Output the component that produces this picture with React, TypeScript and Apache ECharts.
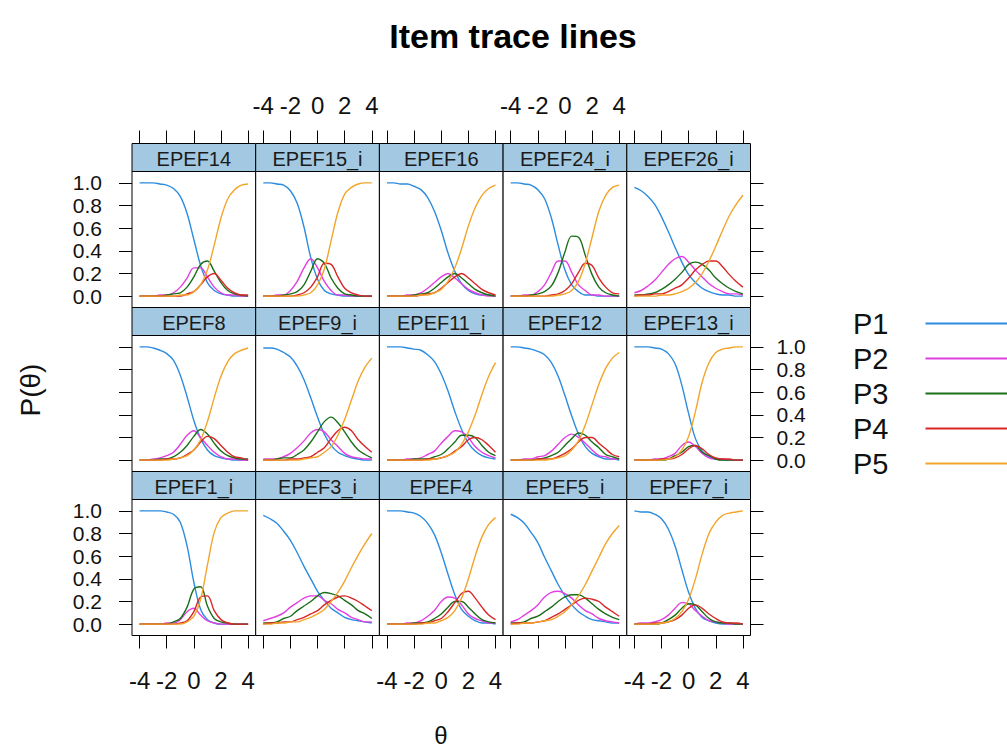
import React, { useEffect, useRef } from "react";
import * as echarts from "echarts";

// ---- data ----
const theta = [-4, -3.5, -3, -2.5, -2, -1.5, -1, -0.5, 0, 0.5, 1, 1.5, 2, 2.5, 3, 3.5, 4];
const categories = ["P1", "P2", "P3", "P4", "P5"];
const xTicks = [-4, -2, 0, 2, 4];
const yTicks = [0, 0.2, 0.4, 0.6, 0.8, 1.0];

const EPEF14 = [
  [1, 1, 1, .99, .98, .95, .88, .73, .50, .27, .12, .05, .02, .01, 0, 0, 0],
  [0, 0, 0, .01, .01, .03, .08, .16, .25, .25, .17, .08, .03, .01, .01, 0, 0],
  [0, 0, 0, 0, .01, .02, .03, .08, .17, .28, .31, .22, .12, .05, .02, .01, 0],
  [0, 0, 0, 0, 0, 0, 0, .02, .04, .10, .17, .20, .14, .07, .03, .01, .01],
  [0, 0, 0, 0, 0, 0, .01, .01, .04, .10, .23, .45, .69, .86, .94, .98, .99],
];
const EPEF15_i = [
  [1, 1, .99, .98, .93, .82, .61, .34, .15, .05, .02, .01, 0, 0, 0, 0, 0],
  [0, 0, .01, .01, .05, .13, .25, .33, .25, .13, .05, .01, .01, 0, 0, 0, 0],
  [0, 0, 0, .01, .02, .04, .10, .22, .33, .29, .16, .07, .02, .01, 0, 0, 0],
  [0, 0, 0, 0, 0, .01, .03, .08, .17, .29, .28, .17, .07, .03, .01, 0, 0],
  [0, 0, 0, 0, 0, 0, .01, .03, .10, .24, .49, .74, .90, .96, .99, 1, 1],
];
const EPEF16 = [
  [1, 1, .99, .99, .97, .94, .87, .75, .58, .38, .22, .11, .05, .02, .01, .01, 0],
  [0, 0, 0, .01, .01, .03, .07, .12, .17, .20, .16, .11, .06, .03, .01, 0, 0],
  [0, 0, 0, 0, .01, .02, .03, .07, .12, .17, .20, .16, .11, .06, .03, .01, 0],
  [0, 0, 0, 0, 0, .01, .02, .03, .07, .12, .17, .20, .16, .11, .06, .03, .01],
  [0, 0, 0, 0, 0, .01, .01, .03, .06, .13, .25, .42, .62, .78, .89, .95, .98],
];
const EPEF24_i = [
  [1, 1, .99, .98, .94, .86, .69, .45, .23, .10, .04, .01, .01, 0, 0, 0, 0],
  [0, 0, .01, .01, .04, .10, .21, .31, .31, .21, .10, .05, .01, .01, 0, 0, 0],
  [0, 0, 0, .01, .02, .04, .09, .21, .39, .53, .52, .36, .19, .08, .03, .01, 0],
  [0, 0, 0, 0, 0, 0, .01, .02, .05, .11, .21, .29, .27, .16, .08, .03, .02],
  [0, 0, 0, 0, 0, 0, 0, .01, .02, .05, .13, .29, .52, .75, .89, .96, .98],
];
const EPEF26_i = [
  [.96, .93, .88, .81, .70, .57, .43, .30, .19, .12, .07, .04, .02, .01, .01, 0, 0],
  [.03, .05, .09, .14, .21, .28, .33, .35, .30, .23, .17, .11, .07, .04, .02, .02, .01],
  [.01, .01, .02, .03, .06, .10, .15, .21, .28, .30, .28, .23, .16, .11, .07, .04, .02],
  [0, .01, .01, .02, .02, .04, .07, .10, .16, .23, .28, .31, .31, .26, .19, .13, .08],
  [0, 0, 0, 0, .01, .01, .02, .04, .07, .12, .20, .31, .44, .58, .71, .81, .89],
];
const EPEF8 = [
  [1, 1, .99, .97, .94, .88, .75, .56, .35, .19, .09, .04, .02, .01, 0, 0, 0],
  [0, 0, .01, .02, .04, .07, .14, .22, .26, .20, .13, .07, .03, .01, .01, 0, 0],
  [0, 0, 0, .01, .01, .03, .07, .13, .21, .27, .23, .15, .08, .04, .02, .01, .01],
  [0, 0, 0, 0, .01, .01, .02, .05, .09, .16, .21, .19, .13, .07, .03, .02, 0],
  [0, 0, 0, 0, 0, .01, .02, .04, .09, .18, .34, .55, .74, .87, .94, .97, .99],
];
const EPEF9_i = [
  [.99, .99, .98, .95, .91, .83, .71, .55, .38, .23, .13, .07, .04, .02, .01, 0, 0],
  [.01, .01, .01, .03, .06, .11, .17, .24, .27, .25, .18, .12, .06, .03, .02, .01, .01],
  [0, 0, .01, .02, .02, .05, .09, .16, .25, .34, .38, .33, .25, .16, .09, .05, .02],
  [0, 0, 0, 0, .01, .01, .02, .03, .07, .11, .19, .26, .29, .26, .18, .12, .07],
  [0, 0, 0, 0, 0, 0, .01, .02, .03, .07, .12, .22, .36, .53, .70, .82, .90],
];
const EPEF11_i = [
  [1, 1, 1, .99, .98, .97, .93, .87, .76, .61, .43, .27, .15, .08, .04, .02, .01],
  [0, 0, 0, .01, .01, .02, .05, .08, .15, .21, .26, .25, .20, .12, .07, .04, .02],
  [0, 0, 0, 0, .01, .01, .01, .03, .05, .10, .16, .22, .22, .20, .13, .07, .04],
  [0, 0, 0, 0, 0, 0, .01, .01, .02, .04, .08, .12, .18, .20, .18, .13, .07],
  [0, 0, 0, 0, 0, 0, 0, .01, .02, .04, .07, .14, .25, .40, .58, .74, .86],
];
const EPEF12 = [
  [1, 1, .99, .98, .96, .93, .86, .74, .57, .39, .23, .12, .06, .03, .01, .01, 0],
  [0, 0, .01, .01, .03, .04, .08, .14, .20, .23, .20, .15, .09, .04, .03, .01, .01],
  [0, 0, 0, 0, .01, .02, .04, .07, .13, .19, .24, .22, .16, .11, .05, .03, .01],
  [0, 0, 0, 0, .01, .01, .01, .03, .06, .10, .16, .20, .20, .15, .10, .05, .03],
  [0, 0, 0, 0, 0, 0, .01, .02, .04, .09, .17, .31, .49, .67, .81, .90, .95],
];
const EPEF13_i = [
  [1, 1, 1, .99, .98, .94, .85, .66, .41, .19, .08, .03, .01, 0, 0, 0, 0],
  [0, 0, 0, .01, .01, .03, .06, .13, .16, .12, .06, .02, .01, .01, 0, 0, 0],
  [0, 0, 0, 0, 0, .01, .04, .07, .12, .13, .07, .04, .01, 0, 0, 0, 0],
  [0, 0, 0, 0, .01, .01, .02, .05, .10, .13, .10, .05, .02, .01, .01, 0, 0],
  [0, 0, 0, 0, 0, .01, .03, .09, .21, .43, .69, .86, .95, .98, .99, 1, 1],
];
const EPEF1_i = [
  [1, 1, 1, 1, .99, .97, .90, .69, .37, .13, .04, .01, 0, 0, 0, 0, 0],
  [0, 0, 0, 0, .01, .01, .04, .11, .14, .08, .03, .01, 0, 0, 0, 0, 0],
  [0, 0, 0, 0, 0, .02, .05, .15, .31, .33, .16, .05, .02, .01, 0, 0, 0],
  [0, 0, 0, 0, 0, 0, .01, .03, .11, .24, .25, .12, .04, .01, 0, 0, 0],
  [0, 0, 0, 0, 0, 0, 0, .02, .07, .22, .52, .81, .94, .98, 1, 1, 1],
];
const EPEF3_i = [
  [.96, .93, .89, .82, .74, .63, .51, .40, .29, .21, .14, .10, .06, .04, .03, .02, .01],
  [.03, .05, .07, .10, .15, .19, .23, .25, .25, .21, .18, .13, .10, .06, .04, .02, .02],
  [.01, .01, .02, .05, .07, .12, .16, .20, .25, .28, .27, .25, .21, .17, .12, .09, .05],
  [0, .01, .01, .02, .02, .04, .06, .09, .12, .17, .21, .24, .25, .23, .20, .16, .12],
  [0, 0, .01, .01, .02, .02, .04, .06, .09, .13, .20, .28, .38, .50, .61, .71, .80],
];
const EPEF4 = [
  [1, 1, 1, .99, .98, .95, .89, .79, .63, .44, .26, .13, .07, .03, .01, .01, 0],
  [0, 0, 0, .01, .01, .03, .07, .12, .20, .24, .23, .17, .09, .05, .03, .01, .01],
  [0, 0, 0, 0, .01, .01, .02, .05, .09, .15, .20, .20, .15, .09, .04, .02, .01],
  [0, 0, 0, 0, 0, .01, .01, .03, .05, .11, .19, .27, .29, .23, .15, .08, .04],
  [0, 0, 0, 0, 0, 0, .01, .01, .03, .06, .12, .23, .40, .60, .77, .88, .94],
];
const EPEF5_i = [
  [.97, .94, .89, .81, .72, .59, .47, .35, .25, .17, .11, .07, .04, .03, .02, .01, .01],
  [.02, .04, .08, .12, .17, .24, .28, .29, .27, .23, .17, .12, .09, .05, .03, .02, .01],
  [.01, .01, .02, .05, .07, .11, .15, .20, .24, .26, .26, .23, .18, .13, .09, .06, .04],
  [0, .01, .01, .01, .02, .03, .06, .09, .13, .17, .21, .23, .22, .20, .15, .11, .07],
  [0, 0, .01, .01, .02, .03, .04, .07, .11, .17, .25, .35, .47, .59, .71, .80, .87],
];
const EPEF7_i = [
  [1, .99, .99, .97, .93, .84, .69, .48, .28, .14, .06, .03, .01, 0, 0, 0, 0],
  [0, .01, .01, .02, .04, .08, .14, .19, .18, .12, .07, .03, .02, .01, 0, 0, 0],
  [0, 0, 0, 0, .01, .04, .08, .14, .18, .17, .11, .05, .02, .01, .01, 0, 0],
  [0, 0, 0, .01, .01, .02, .04, .08, .14, .17, .14, .09, .05, .02, .01, .01, 0],
  [0, 0, 0, 0, .01, .02, .05, .11, .22, .40, .62, .80, .90, .96, .98, .99, 1],
];

const panelNames = [
  "EPEF14", "EPEF15_i", "EPEF16", "EPEF24_i", "EPEF26_i",
  "EPEF8", "EPEF9_i", "EPEF11_i", "EPEF12", "EPEF13_i",
  "EPEF1_i", "EPEF3_i", "EPEF4", "EPEF5_i", "EPEF7_i",
];
const panelData = [
  EPEF14, EPEF15_i, EPEF16, EPEF24_i, EPEF26_i,
  EPEF8, EPEF9_i, EPEF11_i, EPEF12, EPEF13_i,
  EPEF1_i, EPEF3_i, EPEF4, EPEF5_i, EPEF7_i,
];

// ---- styling ----
const colors = ["#2b8ce0", "#e23fe2", "#1a6e1a", "#d92626", "#f2a52a"];
const NARROW = '"Liberation Sans Narrow", "Arial Narrow", "Liberation Sans", Arial, sans-serif';
const SANS = '"Liberation Sans", Arial, sans-serif';
const PLOT_LEFT = 132;
const COL_W = 123.7;
const ROW_TOP = 143.5;
const ROW_H = 164;
const STRIP_H = 28;

function makeX(gridIndex: number, position: string, showTicks: boolean, showLabels: boolean) {
  const top = position === "top";
  return {
    type: "value",
    gridIndex,
    position,
    offset: top ? STRIP_H : 0,
    min: -4.56,
    max: 4.56,
    axisLine: { show: false, onZero: false },
    splitLine: { show: false },
    axisTick: { show: showTicks, customValues: xTicks, length: 13, lineStyle: { color: "#000", width: 1 } },
    axisLabel: {
      show: showLabels,
      customValues: xTicks,
      showMinLabel: true,
      showMaxLabel: true,
      hideOverlap: false,
      margin: top ? 26 : 33,
      fontSize: 24,
      fontFamily: NARROW,
      color: "#111",
    },
  };
}

function makeY(gridIndex: number, position: string, showTicks: boolean, showLabels: boolean) {
  return {
    type: "value",
    gridIndex,
    position,
    min: -0.1,
    max: 1.1,
    axisLine: { show: false, onZero: false },
    splitLine: { show: false },
    axisTick: { show: showTicks, customValues: yTicks, length: 13, lineStyle: { color: "#000", width: 1 } },
    axisLabel: {
      show: showLabels,
      customValues: yTicks,
      showMinLabel: true,
      showMaxLabel: true,
      hideOverlap: false,
      margin: position === "left" ? 30 : 26,
      fontSize: 21,
      lineHeight: 18,
      fontFamily: NARROW,
      color: "#111",
      formatter: (v: number) => v.toFixed(1),
    },
  };
}

function buildOption() {
  const grids: any[] = [];
  const xAxes: any[] = [];
  const yAxes: any[] = [];
  const series: any[] = [];
  const graphics: any[] = [];

  panelNames.forEach((name, i) => {
    const r = Math.floor(i / 5);
    const c = i % 5;
    const left = PLOT_LEFT + c * COL_W;
    const rowTop = ROW_TOP + r * ROW_H;
    grids.push({
      left,
      top: rowTop + STRIP_H,
      width: COL_W,
      height: ROW_H - STRIP_H,
      show: true,
      borderColor: "#000",
      borderWidth: 1,
      backgroundColor: "#fff",
    });
    const xi = xAxes.length;
    xAxes.push(makeX(i, "bottom", r === 2, r === 2 && c % 2 === 0));
    if (r === 0) xAxes.push(makeX(i, "top", true, c % 2 === 1));
    const yi = yAxes.length;
    yAxes.push(makeY(i, "left", c === 0, c === 0 && r % 2 === 0));
    if (c === 4) yAxes.push(makeY(i, "right", true, r === 1));

    panelData[i].forEach((vals, k) => {
      series.push({
        type: "line",
        name: categories[k],
        xAxisIndex: xi,
        yAxisIndex: yi,
        data: theta.map((t, j) => [t, vals[j]]),
        symbol: "none",
        smooth: 0.35,
        lineStyle: { color: colors[k], width: 1.4 },
        itemStyle: { color: colors[k] },
        z: 2 + k,
      });
    });

    graphics.push({
      type: "rect",
      shape: { x: left, y: rowTop, width: COL_W, height: STRIP_H },
      style: { fill: "#a2c9e1", stroke: "#000", lineWidth: 1 },
      z: 10,
    });
    graphics.push({
      type: "text",
      x: left + COL_W / 2,
      y: rowTop + STRIP_H / 2 + 1.5,
      style: {
        text: name,
        align: "center",
        verticalAlign: "middle",
        fontSize: 20,
        fontFamily: NARROW,
        fill: "#1a1a1a",
      },
      z: 11,
    });
  });

  graphics.push({
    type: "text",
    x: 441,
    y: 735,
    style: { text: "θ", align: "center", verticalAlign: "middle", fontSize: 24, fontFamily: SANS, fill: "#111" },
  });
  graphics.push({
    type: "text",
    x: 30,
    y: 390,
    rotation: Math.PI / 2,
    style: { text: "P(θ)", align: "center", verticalAlign: "middle", fontSize: 28, fontFamily: SANS, fill: "#111" },
  });

  return {
    animation: false,
    backgroundColor: "#fff",
    title: {
      text: "Item trace lines",
      left: 508,
      textAlign: "center",
      top: 14,
      textStyle: { fontSize: 34, fontWeight: "bold", fontFamily: SANS, color: "#000" },
    },
    legend: {
      data: categories,
      orient: "vertical",
      left: 848,
      top: 301,
      align: "right",
      icon: "rect",
      itemWidth: 84,
      itemHeight: 2,
      itemGap: 0,
      textStyle: {
        fontSize: 29,
        fontFamily: NARROW,
        color: "#111",
        lineHeight: 35,
        padding: [0, 32, 0, 0],
      },
    },
    grid: grids,
    xAxis: xAxes,
    yAxis: yAxes,
    series,
    graphic: graphics,
  };
}

export default function App() {
  const ref = useRef<HTMLDivElement>(null);
  useEffect(() => {
    if (!ref.current) return;
    const chart = echarts.init(ref.current, undefined, { renderer: "svg" });
    chart.setOption(buildOption() as any);
    return () => chart.dispose();
  }, []);
  return (
    <div
      ref={ref}
      style={{ position: "absolute", left: 0, top: 0, width: 1007, height: 752, background: "#fff" }}
    />
  );
}
